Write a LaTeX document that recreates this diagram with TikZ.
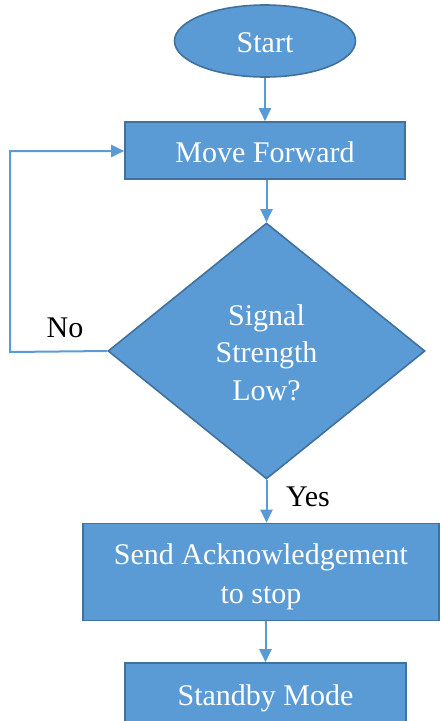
\documentclass[tikz,border=0pt]{standalone}
\usepackage{fontspec}
\setmainfont{Liberation Serif}
\usetikzlibrary{shapes.geometric,arrows.meta}
\definecolor{boxfill}{HTML}{5B9BD5}
\definecolor{boxedge}{HTML}{41719C}
\definecolor{linkblue}{HTML}{5B9BD5}
% centred lines, set a little below the shape's centre
\newcommand{\boxtext}[1]{\raisebox{-4pt}[\height][\depth]{\begin{tabular}{@{}c@{}}#1\end{tabular}}}
\begin{document}
\begin{tikzpicture}[x=1pt,y=-1pt,
  every node/.style={font=\fontsize{30}{39}\selectfont},
  blockshape/.style={draw=boxedge,fill=boxfill,line width=1.6pt,text=white,inner sep=0pt},
  startshape/.style={blockshape,ellipse},
  procbox/.style={blockshape,rectangle},
  decshape/.style={blockshape,diamond},
  link/.style={draw=linkblue,line width=2pt,-{Triangle[width=12pt,length=13pt]}},
  plainlabel/.style={text=black,inner sep=0pt}]
\useasboundingbox (0,0) rectangle (440,721);
\clip (0,0) rectangle (440,721);
\node[startshape,minimum width=181pt,minimum height=72pt] (start) at (265,41) {\boxtext{Start}};
\node[procbox,minimum width=280pt,minimum height=57pt] (move) at (265,150.5) {\boxtext{Move Forward}};
\node[decshape,minimum width=317pt,minimum height=256pt] (dec) at (266.5,351) {\boxtext{Signal\\[-1.5pt]Strength\\[-1.5pt]Low?}};
\node[procbox,minimum width=356pt,minimum height=97pt] (ack) at (261,572) {\boxtext{Send Acknowledgement\\to stop}};
\node[procbox,minimum width=281pt,minimum height=62pt] (standby) at (265.5,694) {\boxtext{Standby Mode}};
\coordinate (loopbl) at (10,352);
\coordinate (looptl) at (10,151);
\draw[link] (start) -- (move.north);
\draw[link] (move.south -| dec.north) -- (dec.north);
\draw[link] (dec.west) -- (loopbl) -- (looptl) -- (move.west |- looptl);
\draw[link] (dec.south) -- (dec.south |- ack.north);
\draw[link] (ack.south -| standby.north) -- (standby.north);
\node[plainlabel] (nolabel) at (65,328) {No};
\node[plainlabel] (yeslabel) at (308,497) {Yes};
\end{tikzpicture}
\end{document}
